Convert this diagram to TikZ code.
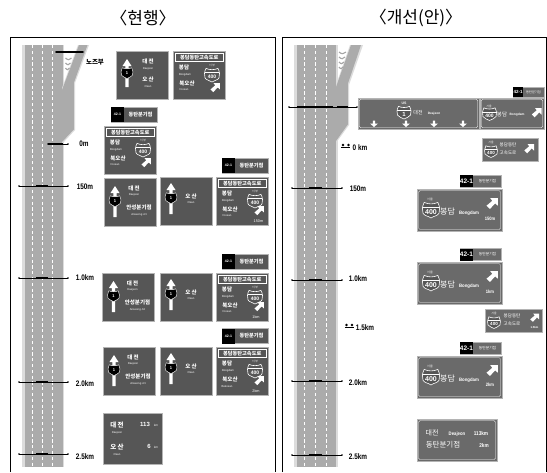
\documentclass[tikz,border=0pt]{standalone}
\usepackage{fontspec}
\setmainfont{Liberation Sans}
\newfontfamily\krf{Noto Sans CJK KR}
\newcounter{nn}
\definecolor{signL}{HTML}{565656}
\definecolor{signR}{HTML}{6A6A6A}
\definecolor{edgeL}{HTML}{B4B4B4}
\definecolor{roadc}{HTML}{ABABAB}
\definecolor{shoulder}{HTML}{DCDCDC}
\newcommand{\fsz}[1]{\fontsize{#1}{#1}\selectfont}
\tikzset{
  autoname/.code={\stepcounter{nn}\tikzset{name=n\thenn}},
  every node/.append style={inner sep=0pt,outer sep=0pt},
  wt/.style={text=white,autoname},
  frameline/.style={draw=black,line width=1pt},
  thinroad/.style={draw=black,line width=.6pt},
  thickbar/.style={draw=black,line width=2pt},
  signbox/.style={fill=signL,draw=edgeL,line width=.8pt},
  signboxR/.style={fill=signR,draw=edgeL,line width=.9pt},
  innerR/.style={draw=white,line width=.35pt,rounded corners=1.5pt},
  dist/.style={text=black,autoname,xscale=.8,font=\bfseries\fsz{8}},
}
% text helpers
\newcommand{\kb}[4]{\node[wt,font=\krf\bfseries\fsz{#3}] at (#1,#2) {#4};}
\newcommand{\kr}[4]{\node[wt,font=\krf\fsz{#3}] at (#1,#2) {#4};}
\newcommand{\en}[3]{\node[wt,font=\fsz{2.8}] at (#1,#2) {#3};}
% arrows
\newcommand{\uparr}[3]{\fill[white] (#1,#2) -- (#1+4.5,#2+7) -- (#1+1.7,#2+7) -- (#1+1.7,#3) -- (#1-1.7,#3) -- (#1-1.7,#2+7) -- (#1-4.5,#2+7) -- cycle;}
\newcommand{\dnarr}[2]{\fill[white] (#1-1.2,#2-3.5) -- (#1+1.2,#2-3.5) -- (#1+1.2,#2-.5) -- (#1+4,#2-.5) -- (#1,#2+3) -- (#1-4,#2-.5) -- (#1-1.2,#2-.5) -- cycle;}
\newcommand{\nearr}[3]{\begin{scope}[shift={(#1,#2)},scale=#3]
 \fill[white] (1,-1) -- (1,.3) -- (.55,-.12) -- (-.35,.85) -- (-.95,.3) -- (.05,-.55) -- (-.3,-1) -- cycle;\end{scope}}
% shield
\newcommand{\shieldpath}{(-.85,-.95) .. controls (-.4,-.7) and (.4,-.7) .. (.85,-.95) .. controls (1.1,-.45) and (1.15,0) .. (1,.4) .. controls (.85,.75) and (.3,.75) .. (0,1) .. controls (-.3,.75) and (-.85,.75) .. (-1,.4) .. controls (-1.15,0) and (-1.1,-.45) .. (-.85,-.95) -- cycle}
\newcommand{\shW}[5]{\begin{scope}[shift={(#1,#2)},xscale=#3,yscale=#3]
 \filldraw[fill=signL,draw=white,line width=.6pt] \shieldpath;
 \draw[white,line width=.4pt] (-1.02,-.35) -- (1.02,-.35);
 \end{scope}
 \node[wt,font=\bfseries\fsz{#4}] at (#1,#2+.25*#3) {#5};}
\newcommand{\shB}[3]{\begin{scope}[shift={(#1,#2)},xscale=#3,yscale=#3]
 \filldraw[fill=black,draw=white,line width=.4pt] \shieldpath;
 \end{scope}
 \node[wt,font=\bfseries\fsz{4}] at (#1,#2+.1) {1};}
% left: through sign with two destinations
\newcommand{\signA}[3]{\begin{scope}[shift={(#1,#2)}]
 \draw[signbox] (0,0) rectangle (52,48);
 \uparr{11}{8}{39}\shB{11}{23}{5.5}
 \kb{30}{10}{5.5}{대 전}\en{30}{17}{Daejeon}
 \kb{35}{29}{5.5}{안성분기점}\en{35}{37}{Anseong Jct}
 \end{scope}}
\newcommand{\signB}[3]{\begin{scope}[shift={(#1,#2)}]
 \draw[signbox] (0,0) rectangle (52,48);
 \uparr{11}{6}{37}\shB{11}{21}{5.5}
 \kb{31}{19}{5.5}{오 산}\en{31}{26}{Osan}
 \end{scope}}
% left: expressway sign
\newcommand{\signC}[5]{\begin{scope}[shift={(#1,#2)}]
 \draw[signbox] (0,0) rectangle (52.5,48);
 \draw[white,line width=.6pt] (2,2.5) rectangle (50.5,10.5);
 \kb{26.2}{6.5}{5.2}{봉담동탄고속도로}
 \kb{11}{16}{5.5}{봉담}\en{12}{24}{Bongdam}
 \kb{14}{32}{5.5}{북오산}\en{11}{39}{#3}
 \kr{39}{14.5}{2.8}{서 부}
 \shW{39}{24}{7}{5}{400}
 \nearr{#4}{#5}{4.8}
 \end{scope}}
% left: tag
\newcommand{\tagL}[2]{\begin{scope}[shift={(#1,#2)}]
 \fill[signL,draw=edgeL,line width=.8pt] (0,0) rectangle (46,15);
 \fill[black] (0,0) rectangle (13,15);
 \node[wt,font=\bfseries\fsz{3.5}] at (6.5,7.5) {42-1};
 \kb{29.5}{7.5}{5.2}{동탄분기점}
 \end{scope}}
% right: big sign
\newcommand{\signR}[4]{\begin{scope}[shift={(#1,#2)}]
 \draw[signboxR] (0,0) rectangle (85,42);
 \draw[innerR] (1.5,1.5) rectangle (83.5,40.5);
 \kr{13}{10}{3}{서울}
 \shW{14}{21}{8}{7}{400}
 \kr{30.5}{22}{8}{봉담}
 \node[wt,font=\bfseries\fsz{4.8},xscale=.9] at (52,24) {Bongdam};
 \nearr{75}{15}{5.8}
 \node[wt,font=\bfseries\fsz{4.8},xscale=.85] at (73,#3) {#4};
 \end{scope}}
\newcommand{\tagR}[2]{\begin{scope}[shift={(#1,#2)}]
 \fill[signR,draw=edgeL,line width=.8pt] (0,0) rectangle (41,12);
 \fill[black] (0,0) rectangle (13,12);
 \node[wt,font=\bfseries\fsz{6.5}] at (6.5,6) {42-1};
 \kr{27.5}{6}{3.8}{동탄분기점}
 \end{scope}}
% road
\newcommand{\road}[5]{
 \fill[shoulder] (#1,45) rectangle (#2,467);
 \fill[roadc] (#1+2.5,45) rectangle (#2-1.5,467);
 \foreach \d in {#3,#4,#5}{\draw[white,line width=.8pt,dash pattern=on 3.2pt off 2.6pt] (\d,45) -- (\d,467);}
}
% ticks
\newcommand{\tick}[5]{
 \coordinate (tl) at (#2,#1); \coordinate (tr) at (#3,#1);
 \draw[thinroad] (tl) -- (tr);
 \fill (tl) circle (.9); \fill (tr) circle (.9);
 \draw[thickbar] (#4,#1) -- (#5,#1);}
\newcommand{\lab}[3]{\node[dist] at (#1,#2) {#3};}
\newcommand{\persons}[2]{\fill (#1,#2) circle (1.3); \fill (#1+5.5,#2) circle (1.3);
 \draw[line width=.7pt] (#1-1.7,#2+2.2) -- (#1+7.2,#2+2.2);}
\begin{document}
\begin{tikzpicture}[x=1pt,y=-1pt]
\useasboundingbox (0,0) rectangle (547,472);
\fill[white] (0,0) rectangle (547,472);
% titles
\node[font=\krf\fsz{17}] (titleL) at (143,18) {〈현행〉};
\node[font=\krf\fsz{17}] (titleR) at (416,18) {〈개선(안)〉};
% frames
\draw[frameline] (10,472) -- (10,37) -- (275,37) -- (275,472);
\draw[frameline] (282,472) -- (282,37) -- (546,37) -- (546,472);
% ------ left road
\road{22}{64}{32}{42}{52}
\fill[shoulder] (78,45) -- (89,45) -- (75,83) -- (75,130) -- (62,144) -- (62,88) -- cycle;
\fill[roadc] (79,45) -- (87.5,45) -- (73.8,83) -- (73.8,129.5) -- (62,142) -- (62,90) -- cycle;
\foreach \yy/\ww in {58/6,63/5,68/4}{\draw[shoulder!75!black,line width=1.1pt] (65.5,\yy) .. controls (65.5+.4*\ww,\yy+2.5) and (65.5+.7*\ww,\yy+2) .. (65.5+\ww,\yy);}
\tick{52}{56}{83}{56}{83}
\fill[black] (69,52) circle (1.2);
\node[font=\krf\bfseries\fsz{6.5}] (nose) at (95,62) {노즈부};
\tick{144}{48}{68}{48}{63}
\lab{84}{144}{0m}
\tick{186}{19}{68}{36}{48}
\lab{85}{187}{150m}
\tick{278}{19}{68}{36}{48}
\lab{85}{278}{1.0km}
\tick{382}{19}{68}{36}{48}
\lab{85}{384}{2.0km}
\tick{454}{19}{68}{36}{48}
\lab{85}{457}{2.5km}
% ------ left signs: first group
\begin{scope}[shift={(116,51)}]
 \draw[signbox] (0,0) rectangle (52,48);
 \uparr{11}{8}{36}\shB{11}{22}{5.5}
 \kb{32}{10}{5.5}{대 전}\en{32}{18}{Daejeon}
 \kb{32}{28}{5.5}{오 산}\en{32}{36}{Osan}
\end{scope}
\signC{173}{51}{N.osan}{42}{37}
\tagL{111}{107}
\signC{104}{126}{N.osan}{42}{37}
\tagL{222}{158}
\signA{104}{178}{}\signB{160}{177}{}
\signC{216}{177}{N.osan}{43}{34}
\node[wt,font=\fsz{3.8}] at (258.5,221) {150m};
\tagL{222}{254}
\signA{102.5}{273}{}\signB{160}{273}{}
\signC{216}{273}{N.osan}{43}{34}
\node[wt,font=\fsz{3.8}] at (256,317) {1km};
\tagL{222}{328.5}
\signA{103}{347}{}\signB{160}{347}{}
\signC{216}{347}{Bukosan}{43}{34}
\node[wt,font=\fsz{3.8}] at (256,391) {2km};
\begin{scope}[shift={(103,413)}]
 \draw[signbox] (0,0) rectangle (59,51);
 \kb{14}{12}{6.5}{대 전}\en{14}{20}{Daejeon}
 \node[wt,font=\bfseries\fsz{6}] at (42,11.5) {113};
 \node[wt,font=\fsz{3}] at (53,12.5) {km};
 \kb{14}{34}{6.5}{오 산}\en{14}{42}{Osan}
 \node[wt,font=\bfseries\fsz{6}] at (46,33.5) {6};
 \node[wt,font=\fsz{3}] at (53,34.5) {km};
\end{scope}
% ------ right road
\road{294}{337.5}{304}{315}{326}
\fill[shoulder] (350,45) -- (363,45) -- (349,85) -- (349,125) -- (336,143) -- (336,85) -- cycle;
\fill[roadc] (351,45) -- (361,45) -- (347.8,84) -- (347.8,124.5) -- (336,141) -- (336,87) -- cycle;
\foreach \yy/\ww in {52/7,57/6,62/5,67/4}{\draw[shoulder!75!black,line width=1.1pt] (339,\yy) .. controls (339+.4*\ww,\yy+2.5) and (339+.7*\ww,\yy+2) .. (339+\ww,\yy);}
\tick{107}{289}{357}{297}{333}
\draw[thickbar] (337,107) -- (348,107);
\persons{343}{145}
\lab{360}{147.5}{0 km}
\tick{188}{292}{342}{309}{322}
\lab{358}{189}{150m}
\tick{280}{292}{342}{309}{322}
\lab{358}{279}{1.0km}
\persons{346.5}{325}
\lab{365}{327.5}{1.5km}
\tick{381}{292}{342}{309}{322}
\lab{358}{383}{2.0km}
\tick{455}{292}{342}{309}{322}
\lab{358}{457}{2.5km}
% ------ right signs
\begin{scope}[shift={(513,87)}]
 \fill[signR,draw=edgeL,line width=.5pt] (0,0) rectangle (31,10);
 \fill[black] (0,0) rectangle (10,10);
 \node[wt,font=\bfseries\fsz{4.5}] at (5,5) {42-1};
 \kr{20.5}{5}{3.2}{동탄분기점}
\end{scope}
\begin{scope}[shift={(358,98)}]
 \draw[signboxR] (0,0) rectangle (121,31);
 \draw[innerR] (1.2,1.2) rectangle (119.8,29.8);
 \node[wt,font=\bfseries\fsz{3.5}] at (46,5) {US};
 \shW{46}{14.5}{6.5}{6}{1}
 \kr{60}{15}{5}{대전}
 \node[wt,font=\bfseries\fsz{3.2}] at (76,15.5) {Deajeon};
 \dnarr{16}{26}\dnarr{48}{26}\dnarr{76}{26}\dnarr{105}{26}
\end{scope}
\begin{scope}[shift={(480,98)}]
 \draw[signboxR] (0,0) rectangle (64,31);
 \draw[innerR] (1.2,1.2) rectangle (62.8,29.8);
 \kr{9}{8}{2.8}{서울}
 \shW{9.5}{16}{6.5}{5}{400}
 \kr{22}{16}{5.5}{봉담}
 \node[wt,font=\bfseries\fsz{3.2}] at (37,16.5) {Bongdam};
 \nearr{56.5}{15}{5}
\end{scope}
\begin{scope}[shift={(482,138)}]
 \draw[signboxR] (0,0) rectangle (56,23);
 \kr{9}{4.5}{2.8}{서울}
 \shW{9}{13.5}{6}{4.5}{400}
 \kr{26}{7}{4.5}{봉담동탄}
 \kr{26}{15}{4.5}{고속도로}
 \nearr{47}{11}{5}
\end{scope}
\tagR{460}{175}
\signR{417}{189}{30}{150m}
\tagR{460}{248.5}
\signR{417}{262}{30}{1km}
\begin{scope}[shift={(485,309)}]
 \draw[signboxR] (0,0) rectangle (57,23);
 \kr{9}{4.5}{2.8}{서울}
 \shW{9}{13.5}{6}{4.5}{400}
 \kr{27}{7}{4.5}{봉담동탄}
 \kr{27}{15}{4.5}{고속도로}
 \nearr{49.5}{9}{4.5}
 \node[wt,font=\bfseries\fsz{2.8}] at (49.5,18) {1.5km};
\end{scope}
\tagR{460}{342}
\signR{417}{356}{29}{2km}
\begin{scope}[shift={(417,419)}]
 \draw[signboxR] (0,0) rectangle (80,42);
 \draw[innerR] (1.5,1.5) rectangle (78.5,40.5);
 \kr{15}{14}{7}{대전}
 \node[wt,font=\bfseries\fsz{5},xscale=.85] at (40,15) {Deajeon};
 \node[wt,font=\bfseries\fsz{5.5},xscale=.85] at (64,15) {113km};
 \kr{26}{26}{7.5}{동탄분기점}
 \node[wt,font=\bfseries\fsz{5.5},xscale=.85] at (67,26.5) {2km};
\end{scope}
\end{tikzpicture}
\end{document}
